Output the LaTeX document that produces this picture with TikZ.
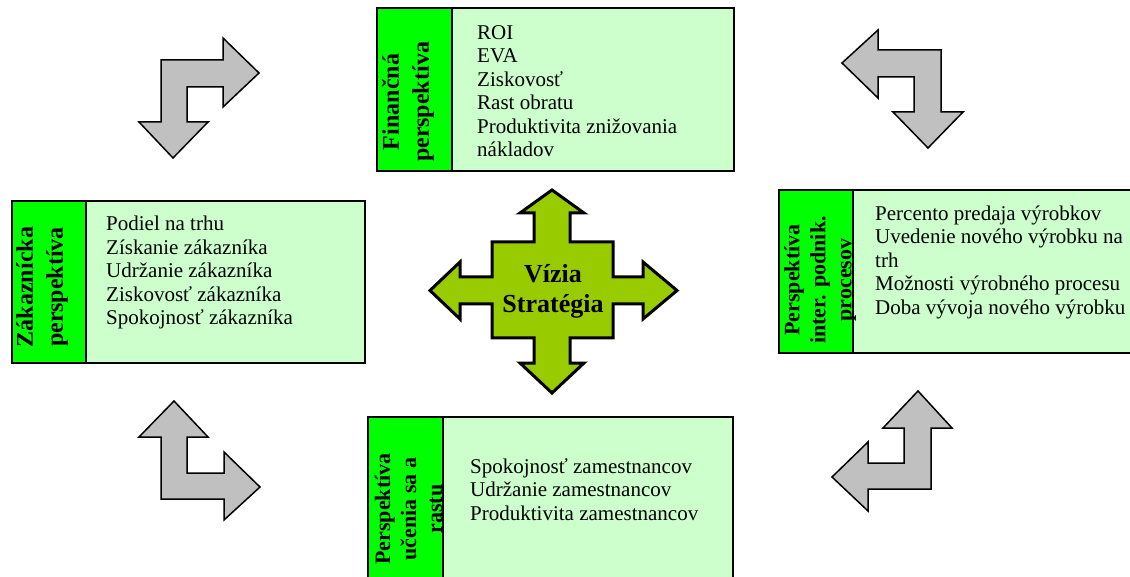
\documentclass[tikz,border=0pt]{standalone}
\usepackage{fontspec}
\setmainfont{Liberation Serif}
\definecolor{stripgreen}{HTML}{00FF00}
\definecolor{panelgreen}{HTML}{CCFFCC}
\definecolor{crossgreen}{HTML}{99CC00}
\definecolor{turngray}{HTML}{C0C0C0}
\begin{document}
\begin{tikzpicture}[x=1pt,y=-1pt,
  panelbox/.style={draw=black,line width=2pt,fill=panelgreen},
  stripbox/.style={draw=black,line width=2pt,fill=stripgreen},
  items/.style={anchor=north west,align=left,inner sep=0pt,
    font=\fontsize{21}{23.5}\selectfont},
  sidelabel/.style={rotate=90,align=center,inner sep=0pt,
    font=\bfseries\fontsize{24}{30}\selectfont},
  tightlabel/.style={sidelabel,font=\bfseries\fontsize{22}{26}\selectfont},
  grayturn/.style={draw=black,line width=1.5pt,fill=turngray,line join=miter},
  crossarrow/.style={draw=black,line width=3pt,fill=crossgreen,line join=miter}]
\useasboundingbox (0,0) rectangle (1130,577);

% ---- financial perspective (top) ----
\draw[panelbox] (377,8) rectangle (734,171);
\draw[stripbox] (377,8) rectangle (452,171);
\node[sidelabel] (finlabel) at (408,102) {Finančná\\perspektíva};
\begin{scope}
  \clip (452,8) rectangle (734,159);
  \node[items] (finitems) at (477,22.5) {\strut ROI\\EVA\\Ziskovosť\\Rast obratu\\Produktivita znižovania\\nákladov};
\end{scope}

% ---- customer perspective (left) ----
\draw[panelbox] (12,201) rectangle (365,363);
\draw[stripbox] (12,201) rectangle (86,363);
\node[sidelabel] (custlabel) at (42,287) {Zákaznícka\\perspektíva};
\node[items] (custitems) at (106,214.2) {\strut Podiel na trhu\\Získanie zákazníka\\Udržanie zákazníka\\Ziskovosť zákazníka\\Spokojnosť zákazníka};

% ---- internal processes (right) ----
\draw[panelbox] (779,190) rectangle (1136,353);
\draw[stripbox] (779,190) rectangle (853,353);
\node[tightlabel] (proclabel) at (820,280) {Perspektíva\\inter. podnik.\\procesov};
\node[items] (procitems) at (875,203.5) {\strut Percento predaja výrobkov\\Uvedenie nového výrobku na\\trh\\Možnosti výrobného procesu\\Doba vývoja nového výrobku};

% ---- learning and growth (bottom) ----
\draw[panelbox] (368,417) rectangle (733,583);
\draw[stripbox] (368,417) rectangle (443,583);
\node[tightlabel] (learnlabel) at (408.5,509) {Perspektíva\\učenia sa a\\rastu};
\node[items] (learnitems) at (470,456.5) {\strut Spokojnosť zamestnancov\\Udržanie zamestnancov\\Produktivita zamestnancov};

% ---- central four-way arrow ----
\draw[crossarrow] (552,190) -- (584,213) -- (570,213) -- (570,242) -- (613,242)
  -- (613,277) -- (643,277) -- (643,262) -- (677,290.5) -- (643,319) -- (643,304)
  -- (613,304) -- (613,338) -- (570,338) -- (570,363) -- (584,363) -- (552,393)
  -- (520,363) -- (534,363) -- (534,338) -- (492,338) -- (492,304) -- (460,304)
  -- (460,319) -- (430,290.5) -- (460,262) -- (460,277) -- (492,277) -- (492,242)
  -- (534,242) -- (534,213) -- (520,213) -- cycle;
\node[align=center,inner sep=0pt,font=\bfseries\fontsize{26}{30}\selectfont] (vision) at (553,291) {Vízia\\Stratégia};

% ---- bent gray arrows in the corners ----
\draw[grayturn] (161,122) -- (139,122) -- (173,158) -- (208,122) -- (187,122)
  -- (187,87) -- (223,87) -- (223,107) -- (259,73) -- (223,38) -- (223,60)
  -- (161,60) -- cycle;
\draw[grayturn] (842,63) -- (878,30) -- (878,50) -- (941,50) -- (941,112)
  -- (963,112) -- (928,148) -- (893,112) -- (914,112) -- (914,77) -- (878,77)
  -- (878,98) -- cycle;
\draw[grayturn] (174,401) -- (208,437) -- (187,437) -- (187,473) -- (224,473)
  -- (224,452) -- (260,487) -- (224,520) -- (224,499) -- (161,499) -- (161,437)
  -- (139,437) -- cycle;
\draw[grayturn] (918,391) -- (952,428) -- (931,428) -- (931,489) -- (868,489)
  -- (868,511) -- (832,477) -- (868,442) -- (868,463) -- (904,463) -- (904,428)
  -- (883,428) -- cycle;
\end{tikzpicture}
\end{document}
